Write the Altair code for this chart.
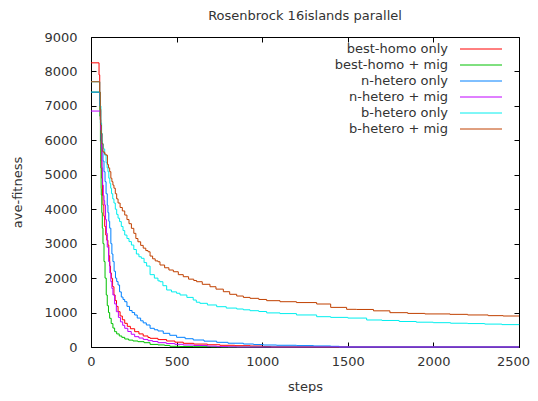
import altair as alt
import pandas as pd

names = ["best-homo only", "best-homo + mig", "n-hetero only",
         "n-hetero + mig", "b-hetero only", "b-hetero + mig"]
colors = ["#ff0000", "#00c000", "#0080ff", "#c000ff", "#00eeee", "#c04000"]

x_ticks = [0, 500, 1000, 1500, 2000, 2500]
y_ticks = [0, 1000, 2000, 3000, 4000, 5000, 6000, 7000, 8000, 9000]

red_steps = [0, 47, 51, 54, 57, 60, 63, 67, 70, 75, 80, 86, 92, 99, 104, 109, 114, 119, 126, 134, 141, 149, 158, 170, 183, 197, 212, 230, 255, 280, 305, 333, 345, 391, 442, 490, 539, 600, 680, 753, 840, 929, 1000, 1050, 2500]
red_vals = [8250, 7900, 7170, 6600, 6000, 5400, 4900, 4400, 4120, 3800, 3500, 3250, 3100, 2960, 2650, 2350, 2150, 1995, 1750, 1510, 1350, 1180, 1025, 900, 790, 688, 600, 530, 445, 380, 320, 275, 252, 215, 174, 140, 107, 85, 65, 49, 38, 29, 15, 0, 0]

green_steps = [0, 52, 55, 57, 59, 60, 63, 66, 70, 76, 82, 89, 95, 102, 109, 118, 128, 138, 150, 165, 180, 197, 220, 245, 274, 310, 345, 391, 430, 461, 520, 600, 700, 760, 2500]
green_vals = [7400, 6700, 5960, 5200, 4600, 4410, 3900, 3450, 3000, 2480, 2000, 1510, 1200, 1000, 833, 680, 550, 445, 380, 320, 280, 232, 200, 175, 155, 125, 75, 60, 45, 20, 14, 10, 5, 0, 0]

blue_steps = [0, 51, 55, 60, 65, 70, 76, 82, 88, 95, 99, 104, 109, 116, 122, 128, 135, 143, 150, 158, 167, 177, 187, 197, 210, 225, 240, 255, 270, 290, 305, 323, 345, 370, 391, 422, 460, 500, 550, 597, 660, 734, 800, 890, 950, 1007, 1084, 1200, 1300, 1400, 1450, 2500]
blue_vals = [7400, 7000, 6500, 6000, 5700, 5400, 5090, 4800, 4450, 4120, 3900, 3650, 3450, 3000, 2700, 2480, 2200, 2000, 1900, 1800, 1600, 1450, 1380, 1315, 1180, 1060, 1000, 929, 840, 760, 700, 639, 543, 500, 465, 397, 340, 281, 240, 203, 170, 136, 110, 87, 70, 58, 50, 40, 30, 20, 0, 0]

purple_steps = [0, 56, 60, 64, 68, 72, 76, 80, 85, 90, 95, 103, 110, 116, 122, 128, 138, 148, 160, 172, 185, 197, 215, 235, 255, 280, 305, 333, 360, 391, 440, 490, 539, 600, 680, 734, 800, 850, 2500]
purple_vals = [6850, 6300, 5800, 5200, 4700, 4400, 4250, 4120, 3700, 3300, 2900, 2480, 2150, 1900, 1700, 1510, 1250, 1025, 860, 730, 630, 543, 450, 370, 300, 260, 220, 184, 160, 126, 100, 78, 58, 45, 25, 10, 5, 0, 0]

cyan_steps = [0, 51, 54, 58, 62, 66, 72, 80, 88, 94, 99, 104, 110, 115, 120, 127, 134, 142, 150, 158, 167, 177, 187, 197, 210, 222, 236, 250, 265, 280, 294, 310, 325, 345, 370, 391, 403, 420, 442, 470, 500, 520, 560, 597, 615, 636, 680, 734, 790, 851, 890, 929, 980, 1026, 1104, 1200, 1318, 1400, 1500, 1610, 1700, 1800, 1900, 1999, 2100, 2200, 2300, 2400, 2500]
cyan_vals = [7700, 7400, 7000, 6500, 6200, 5900, 5750, 5570, 5350, 5200, 5090, 4900, 4750, 4610, 4450, 4300, 4180, 4000, 3850, 3740, 3640, 3500, 3380, 3250, 3150, 3060, 2960, 2830, 2700, 2620, 2575, 2450, 2350, 2100, 2000, 1920, 1895, 1780, 1655, 1600, 1560, 1510, 1440, 1364, 1300, 1268, 1220, 1170, 1130, 1103, 1080, 1054, 1030, 990, 970, 930, 880, 860, 840, 784, 770, 740, 720, 706, 690, 680, 665, 650, 640]

orange_steps = [0, 51, 54, 57, 60, 64, 70, 80, 88, 96, 102, 109, 116, 122, 128, 134, 142, 150, 158, 170, 183, 197, 210, 222, 236, 250, 262, 274, 290, 305, 320, 333, 345, 360, 375, 391, 403, 430, 455, 481, 510, 539, 570, 600, 617, 650, 695, 730, 773, 810, 851, 890, 929, 980, 1026, 1104, 1200, 1318, 1400, 1493, 1550, 1650, 1746, 1850, 1950, 2097, 2200, 2320, 2407, 2500]
orange_vals = [7700, 7400, 6900, 6445, 6200, 5900, 5660, 5600, 5570, 5300, 5200, 5090, 4900, 4800, 4700, 4610, 4450, 4300, 4180, 4050, 3950, 3830, 3700, 3580, 3445, 3300, 3150, 3055, 2950, 2870, 2800, 2765, 2640, 2560, 2500, 2475, 2380, 2300, 2235, 2185, 2100, 2040, 1970, 1930, 1895, 1820, 1750, 1680, 1605, 1530, 1480, 1440, 1413, 1380, 1345, 1315, 1290, 1248, 1150, 1094, 1090, 1050, 997, 975, 960, 948, 930, 910, 900, 900]

series_data = [
    (names[0], red_steps, red_vals),
    (names[1], green_steps, green_vals),
    (names[2], blue_steps, blue_vals),
    (names[3], purple_steps, purple_vals),
    (names[4], cyan_steps, cyan_vals),
    (names[5], orange_steps, orange_vals),
]

rows = []
for name, steps, vals in series_data:
    for s, v in zip(steps, vals):
        rows.append({"series": name, "step": s, "value": v})
df = pd.DataFrame(rows)
leg_df = pd.DataFrame({"series": names})

W, H = 428, 310
FONT = "DejaVu Sans"
TXT = "#333333"

xscale = alt.Scale(domain=[0, 2500], nice=False, zero=False)
yscale = alt.Scale(domain=[0, 9000], nice=False, zero=False)
cscale = alt.Scale(domain=names, range=colors)

label_style = dict(labelFontSize=13, labelFont=FONT, labelColor=TXT,
                   titleFontSize=13, titleFontWeight="normal", titleFont=FONT,
                   titleColor=TXT, domain=False, grid=False, labelFlush=False,
                   labelOverlap=False, ticks=False, tickSize=0, format="d")

lines = alt.Chart(df).mark_line(interpolate="step-after", strokeWidth=1).encode(
    x=alt.X("step:Q", scale=xscale,
            axis=alt.Axis(orient="bottom", values=x_ticks[:-1], title="steps",
                          labelPadding=8, titlePadding=12, **label_style)),
    y=alt.Y("value:Q", scale=yscale,
            axis=alt.Axis(orient="left", values=y_ticks, title="ave-fitness",
                          labelPadding=14, titlePadding=19, **label_style)),
    color=alt.Color("series:N", sort=names, scale=cscale, legend=None),
)

# last x label, nudged left so it stays inside the page
last_label = alt.Chart(df).mark_line(opacity=0).encode(
    x=alt.X("step:Q", scale=xscale,
            axis=alt.Axis(orient="bottom", values=x_ticks[-1:], title=None,
                          labelPadding=8, labelOffset=-6, **label_style)),
    y=alt.Y("value:Q", scale=yscale, axis=None),
)

def tick_axis(orient, values, offset):
    return alt.Axis(orient=orient, values=values, offset=offset, labels=False,
                    ticks=True, tickSize=5, tickColor="black", tickWidth=1,
                    domain=False, grid=False, title=None)

ticks_a = alt.Chart(df).mark_line(opacity=0).encode(
    x=alt.X("step:Q", scale=xscale, axis=tick_axis("top", x_ticks, -H)),
    y=alt.Y("value:Q", scale=yscale, axis=tick_axis("right", y_ticks, -W)),
)
ticks_b = alt.Chart(df).mark_line(opacity=0).encode(
    x=alt.X("step:Q", scale=xscale, axis=tick_axis("bottom", x_ticks, -H)),
    y=alt.Y("value:Q", scale=yscale, axis=tick_axis("left", y_ticks, -W)),
)

leg_y = alt.Y("series:N", sort=names,
              scale=alt.Scale(type="point", domain=names, range=[12, 92], padding=0),
              axis=None)

leg_text = alt.Chart(leg_df).mark_text(align="right", baseline="middle",
                                       fontSize=13, font=FONT, color=TXT).encode(
    x=alt.value(357), y=leg_y, text="series:N")

leg_rule = alt.Chart(leg_df).mark_rule(strokeWidth=1).encode(
    x=alt.value(369), x2=alt.value(411), y=leg_y,
    color=alt.Color("series:N", sort=names, scale=cscale, legend=None))

chart = alt.layer(lines, last_label, ticks_a, ticks_b, leg_text, leg_rule).resolve_scale(
    y="independent"
).resolve_axis(
    x="independent", y="independent"
).properties(
    width=W, height=H,
    title=alt.TitleParams("Rosenbrock 16islands parallel", fontSize=13, font=FONT,
                          fontWeight="normal", color=TXT, offset=8),
    autosize=alt.AutoSizeParams(type="none"),
    padding={"left": 83, "top": 29, "right": 11, "bottom": 46},
).configure_view(stroke="black", strokeWidth=1)

chart.save("out.html", embed_options={"renderer": "svg", "actions": False})
